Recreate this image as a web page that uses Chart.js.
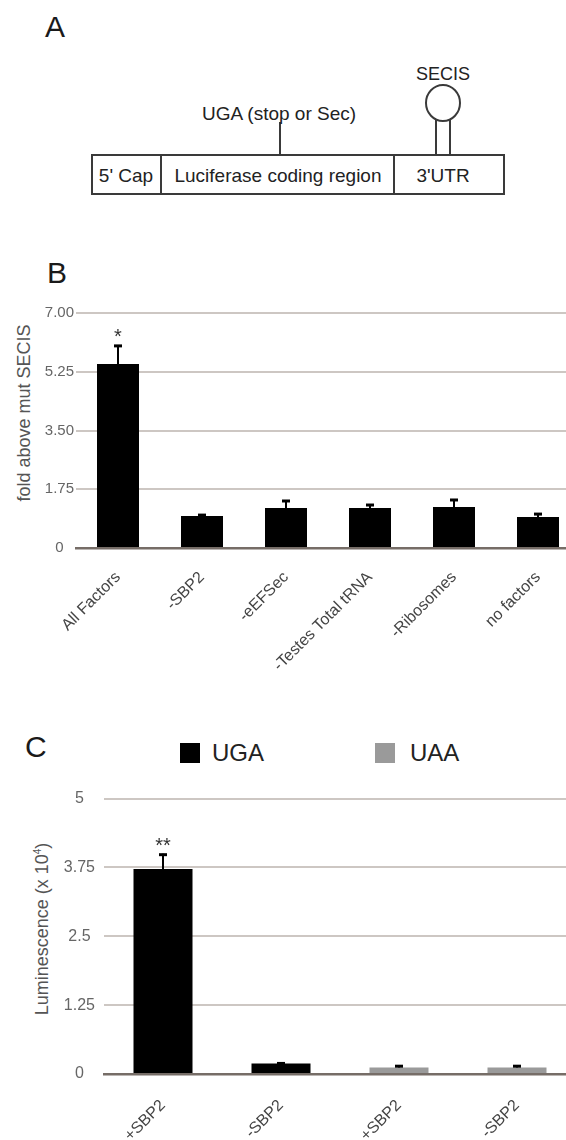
<!DOCTYPE html>
<html>
<head>
<meta charset="utf-8">
<script src="https://cdn.jsdelivr.net/npm/chart.js@4.4.1/dist/chart.umd.min.js"></script>
<style>
  html, body { margin: 0; padding: 0; background: #fff; }
  body { width: 566px; height: 1140px; overflow: hidden; position: relative;
         font-family: "Liberation Sans", Arial, sans-serif; color: #333; }
  .abs { position: absolute; white-space: nowrap; line-height: 1; }
  .panel { font-size: 30px; color: #1a1a1a; }
  .ytitle { font-size: 18px; color: #555; transform: translate(-50%, -50%) rotate(-90deg); }
  .ytitle sup { font-size: 10px; vertical-align: 7px; }
  .legend-box { position: absolute; width: 20px; height: 20px; }
  .legend-text { font-size: 24px; color: #222; }
  #boxB { position: absolute; left: 0; top: 300px; width: 580px; height: 388px; }
  #boxC { position: absolute; left: 0; top: 780px; width: 576px; height: 360px; }
</style>
</head>
<body>

<!-- Panel A: reporter construct -->
<div class="abs panel" style="left:45px; top:12px;">A</div>
<svg class="abs" style="left:0; top:0;" width="566" height="210" font-family="Liberation Sans, Arial, sans-serif">
  <g fill="none" stroke="#3a3a3a" stroke-width="2">
    <rect x="92" y="155" width="412" height="39"/>
    <line x1="161" y1="155" x2="161" y2="194"/>
    <line x1="394" y1="155" x2="394" y2="194"/>
    <line x1="280" y1="122" x2="280" y2="155"/>
    <ellipse cx="443" cy="103" rx="17" ry="18"/>
    <line x1="436" y1="120" x2="436" y2="155"/>
    <line x1="450" y1="120" x2="450" y2="155"/>
  </g>
  <g fill="#222" font-size="19" text-anchor="middle">
    <text x="126" y="182">5' Cap</text>
    <text x="278" y="182">Luciferase coding region</text>
    <text x="443" y="182">3'UTR</text>
    <text x="279" y="120">UGA (stop or Sec)</text>
    <text x="443" y="80" font-size="18">SECIS</text>
  </g>
</svg>

<!-- Panel B -->
<div class="abs panel" style="left:47px; top:258px;">B</div>
<div class="abs ytitle" style="left:24px; top:413px;">fold above mut SECIS</div>
<div id="boxB"><canvas id="chartB"></canvas></div>

<!-- Panel C -->
<div class="abs panel" style="left:25px; top:732px;">C</div>
<div id="legendC"></div>
<div class="abs ytitle" style="left:42px; top:929px;">Luminescence (x 10<sup>4</sup>)</div>
<div id="boxC"><canvas id="chartC"></canvas></div>

<script>
// Panel B: SECIS-dependent readthrough, fold above the mutant SECIS
const conditionLabels = ['All Factors', '-SBP2', '-eEFSec', '-Testes Total tRNA', '-Ribosomes', 'no factors'];
const foldAboveMut = [5.48, 0.95, 1.19, 1.19, 1.22, 0.92];
const foldError = [0.57, 0.06, 0.24, 0.12, 0.24, 0.12];
const foldMarks = ['*', '', '', '', '', ''];
const foldTicks = ['0', '1.75', '3.50', '5.25', '7.00'];

// Panel C: luminescence of UGA vs UAA reporters with and without SBP2
const reporterLabels = ['+SBP2', '-SBP2', '+SBP2', '-SBP2'];
const ugaLum = [3.72, 0.19, null, null];
const ugaErr = [0.28, 0.02, null, null];
const uaaLum = [null, null, 0.12, 0.12];
const uaaErr = [null, null, 0.04, 0.04];
const lumMarks = ['**', '', '', ''];
const lumTicks = ['0', '1.25', '2.5', '3.75', '5'];

const FONT = '"Liberation Sans", Arial, sans-serif';
const GRID = '#cdc7c3';
const BASE = '#766d67';

// Upper error whiskers and significance asterisks above each bar
const errorBars = {
  id: 'errorBars',
  afterDatasetsDraw(chart) {
    const { ctx } = chart;
    const y = chart.scales.y;
    chart.data.datasets.forEach((ds, di) => {
      const meta = chart.getDatasetMeta(di);
      meta.data.forEach((bar, i) => {
        const v = ds.data[i];
        if (v == null) return;
        const e = ds.errors ? ds.errors[i] : null;
        let top = bar.y;
        ctx.save();
        if (e != null) {
          top = y.getPixelForValue(v + e);
          ctx.strokeStyle = '#000';
          ctx.lineWidth = 2;
          ctx.beginPath();
          ctx.moveTo(bar.x, bar.y);
          ctx.lineTo(bar.x, top);
          ctx.stroke();
          ctx.lineWidth = 3;
          ctx.beginPath();
          ctx.moveTo(bar.x - 4, top + 1);
          ctx.lineTo(bar.x + 4, top + 1);
          ctx.stroke();
        }
        const mark = ds.marks ? ds.marks[i] : '';
        if (mark) {
          ctx.fillStyle = '#333';
          ctx.font = '20px ' + FONT;
          ctx.textAlign = 'center';
          ctx.textBaseline = 'top';
          ctx.fillText(mark, bar.x, top - 17);
        }
        ctx.restore();
      });
    });
  }
};

function baseOptions(tickLabels, max, step, yWidth, xHeight, tickFont, tickPad, xPad) {
  return {
    responsive: true,
    maintainAspectRatio: false,
    animation: false,
    layout: { padding: { top: 13, left: 0, right: 0, bottom: 0 } },
    plugins: { legend: { display: false }, title: { display: false }, tooltip: { enabled: false } },
    scales: {
      x: {
        grid: { display: false, drawTicks: false },
        border: { display: true, color: BASE, width: 2.5 },
        ticks: {
          autoSkip: false, minRotation: 45, maxRotation: 45, padding: xPad,
          color: '#444', font: { family: FONT, size: 16 }
        },
        afterFit(scale) { scale.height = xHeight; }
      },
      y: {
        min: 0, max: max,
        grid: {
          drawTicks: false, lineWidth: 2,
          color: (c) => (c.tick && c.tick.value === 0 ? 'rgba(0,0,0,0)' : GRID)
        },
        border: { display: false },
        ticks: {
          stepSize: step, crossAlign: 'center', padding: tickPad,
          color: '#666', font: { family: FONT, size: tickFont },
          callback: (v, i) => tickLabels[i]
        },
        afterFit(scale) { scale.width = yWidth; }
      }
    }
  };
}

new Chart(document.getElementById('chartB'), {
  type: 'bar',
  data: {
    labels: conditionLabels,
    datasets: [{
      label: 'fold above mut SECIS',
      data: foldAboveMut,
      errors: foldError,
      marks: foldMarks,
      backgroundColor: '#000',
      borderWidth: 0,
      barPercentage: 1,
      categoryPercentage: 0.5
    }]
  },
  options: baseOptions(foldTicks, 7, 1.75, 76, 140, 15, 2, 20),
  plugins: [errorBars]
});

const seriesC = [
  { label: 'UGA', data: ugaLum, errors: ugaErr, marks: lumMarks, color: '#000' },
  { label: 'UAA', data: uaaLum, errors: uaaErr, marks: null, color: '#9a9a9a' }
];

new Chart(document.getElementById('chartC'), {
  type: 'bar',
  data: {
    labels: reporterLabels,
    datasets: seriesC.map(s => ({
      label: s.label,
      data: s.data,
      errors: s.errors,
      marks: s.marks,
      backgroundColor: s.color,
      borderWidth: 0,
      skipNull: true,
      barPercentage: 1,
      categoryPercentage: 0.5
    }))
  },
  options: baseOptions(lumTicks, 5, 1.25, 104, 66, 16, 9, 22),
  plugins: [errorBars]
});

// Legend for panel C, built from the series list
const legendSpots = [{ box: 180, text: 212 }, { box: 375, text: 410 }];
const legendEl = document.getElementById('legendC');
seriesC.forEach((s, i) => {
  const b = document.createElement('div');
  b.className = 'legend-box';
  b.style.left = legendSpots[i].box + 'px';
  b.style.top = '743px';
  b.style.background = s.color;
  legendEl.appendChild(b);
  const t = document.createElement('div');
  t.className = 'abs legend-text';
  t.style.left = legendSpots[i].text + 'px';
  t.style.top = '741px';
  t.textContent = s.label;
  legendEl.appendChild(t);
});
</script>
</body>
</html>
